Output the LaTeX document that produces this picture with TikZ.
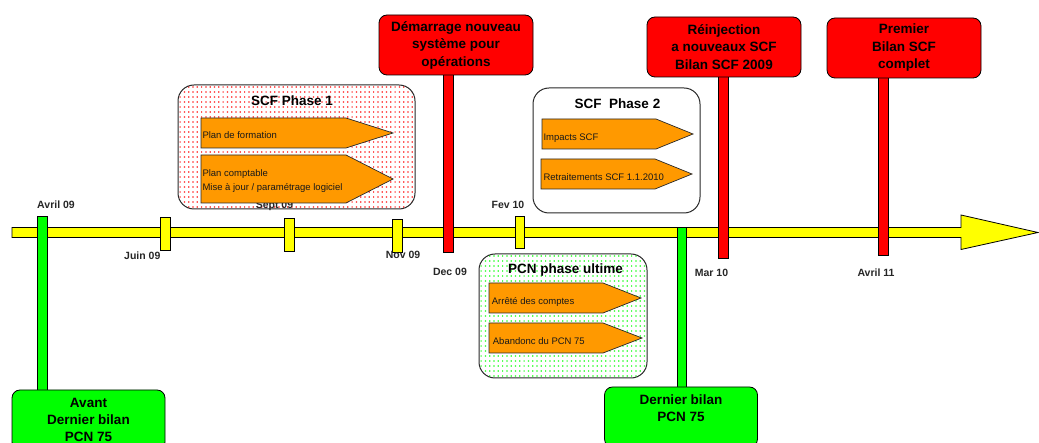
\documentclass[tikz,border=0pt]{standalone}
\usepackage{fontspec}
\setmainfont{Liberation Sans}
\definecolor{tlyellow}{RGB}{255,255,0}
\definecolor{tlgreen}{RGB}{0,255,0}
\definecolor{tlred}{RGB}{255,0,0}
\definecolor{tlorange}{RGB}{255,153,0}
\definecolor{tledge}{RGB}{40,40,40}

\begin{document}
\begin{tikzpicture}[x=1pt,y=-1pt,
  timeline/.style={draw=black, line width=0.8pt, fill=tlyellow},
  tick/.style={draw=black, line width=0.8pt, fill=tlyellow},
  redbar/.style={draw=black, line width=0.8pt, fill=tlred},
  greenbar/.style={draw=black, line width=0.8pt, fill=tlgreen},
  datelabel/.style={anchor=base, inner sep=0pt, text=black!85,
    font=\bfseries\fontsize{10.5}{12}\selectfont},
  milestone/.style={draw=black, line width=0.8pt, rounded corners=8pt,
    fill=tlred, align=center, inner sep=0pt, minimum width=154pt,
    minimum height=60pt, font=\bfseries\fontsize{13.5}{17.5}\selectfont},
  closing/.style={milestone, fill=tlgreen, minimum width=153pt,
    font=\bfseries\fontsize{13.5}{17}\selectfont},
  phasebox/.style={draw=tledge, line width=1pt, rounded corners=16pt},
  phasetitle/.style={anchor=base, inner sep=0pt,
    font=\bfseries\fontsize{13.5}{16}\selectfont},
  task/.style={draw=tledge, line width=0.7pt, fill=tlorange},
  tasktext/.style={inner sep=0pt, align=left, text=black!90,
    font=\fontsize{9.5}{13.3}\selectfont}
]
\useasboundingbox (0,0) rectangle (1039,443);
\clip (0,0) rectangle (1039,443);

% ---------- phase frames ----------
% SCF phase 1: red dotted frame
\begin{scope}
  \clip[rounded corners=16pt] (178,85) rectangle (415,209);
  \fill[tlred] \foreach \i in {0,...,54} {\foreach \j in {0,...,24}
    {({179.5+4.3*\i},{86.5+5*\j}) rectangle ++(1.2,1.2)}};
\end{scope}
\draw[phasebox] (178,85) rectangle (415,209);
\node[phasetitle] (p1) at (292,106) {SCF Phase 1};

% SCF phase 2: plain frame
\draw[phasebox, fill=white] (533,88) rectangle (700,213);
\node[phasetitle] (p2) at (617.5,108.3) {SCF\ \ Phase 2};

% PCN final phase: green dotted frame
\begin{scope}
  \clip[rounded corners=16pt] (479,254) rectangle (647,378);
  \fill[tlgreen] \foreach \i in {0,...,38} {\foreach \j in {0,...,24}
    {({480.5+4.3*\i},{255.5+5*\j}) rectangle ++(1.2,1.2)}};
\end{scope}
\draw[phasebox] (479,254) rectangle (647,378);
\node[phasetitle] (p3) at (565.5,273.3) {PCN phase ultime};

% ---------- time axis ----------
\draw[timeline] (12,227.5) -- (961,227.5) -- (961,215) -- (1038,232.5)
  -- (961,249.5) -- (961,237.5) -- (12,237.5) -- cycle;

% month ticks
\draw[tick] (160,217) rectangle (170,250);
\draw[tick] (284,218) rectangle (294,251);
\draw[tick] (392,219) rectangle (402,252);
\draw[tick] (515,216) rectangle (524,248);

% date labels
\node[datelabel] (d-avr09) at (56,208.3)  {Avril 09};
\node[datelabel] (d-jun09) at (142.3,259.3) {Juin 09};
\node[datelabel] (d-sep09) at (274.5,208.3) {Sept 09};
\node[datelabel] (d-nov09) at (403,259) {Nov 09};
\node[datelabel] (d-dec09) at (450,276) {Dec 09};
\node[datelabel] (d-fev10) at (508,208.7) {Fev 10};
\node[datelabel] (d-mar10) at (711.5,276.7) {Mar 10};
\node[datelabel] (d-avr11) at (876,276.7) {Avril 11};

% ---------- milestones above the axis ----------
\coordinate (m1-top) at (443,70);  \coordinate (m1-end) at (453,252);
\coordinate (m2-top) at (718,72);  \coordinate (m2-end) at (728,258);
\coordinate (m3-top) at (878,72);  \coordinate (m3-end) at (888,255);
\draw[redbar] (m1-top) rectangle (m1-end);
\draw[redbar] (m2-top) rectangle (m2-end);
\draw[redbar] (m3-top) rectangle (m3-end);

\node[milestone] (m1) at (456,45) {Démarrage nouveau\\système pour\\opérations};
\node[milestone] (m2) at (724,47) {Réinjection\\a nouveaux SCF\\Bilan SCF 2009};
\node[milestone] (m3) at (904,48) {Premier\\Bilan SCF\\complet};

% ---------- closings below the axis ----------
\coordinate (g1-top) at (37,216);  \coordinate (g1-end) at (47,392);
\coordinate (g2-top) at (677,227); \coordinate (g2-end) at (686,389);
\draw[greenbar] (g1-top) rectangle (g1-end);
\draw[greenbar] (g2-top) rectangle (g2-end);

\node[closing] (g1) at (88.5,420) {Avant\\Dernier bilan\\PCN 75};
\node[closing] (g2) at (681,417) {Dernier bilan\\PCN 75\\\mbox{}};

% ---------- tasks of each phase ----------
\draw[task] (201,118) -- (346,118) -- (393,133) -- (346,148) -- (201,148) -- cycle;
\node[tasktext, anchor=base west] (t11) at (202.3,139) {Plan de formation};
\draw[task] (201,155) -- (346,155) -- (393,179) -- (346,203) -- (201,203) -- cycle;
\node[tasktext, anchor=west] (t12) at (202.3,180.9)
  {Plan comptable\\Mise à jour / paramétrage logiciel};

\draw[task] (542,119) -- (656,119) -- (693,134) -- (656,149) -- (542,149) -- cycle;
\node[tasktext, anchor=base west] (t21) at (543.3,141) {Impacts SCF};
\draw[task] (541,159) -- (655,159) -- (692,174) -- (655,189) -- (541,189) -- cycle;
\node[tasktext, anchor=base west] (t22) at (543.3,180.7) {Retraitements SCF 1.1.2010};

\draw[task] (489,283) -- (603,283) -- (641,298) -- (603,313) -- (489,313) -- cycle;
\node[tasktext, anchor=base west] (t31) at (491.7,305) {Arrêté des comptes};
\draw[task] (489,323) -- (603,323) -- (642,338) -- (603,353) -- (489,353) -- cycle;
\node[tasktext, anchor=base west] (t32) at (492.7,344.3) {Abandonc du PCN 75};
\end{tikzpicture}
\end{document}
